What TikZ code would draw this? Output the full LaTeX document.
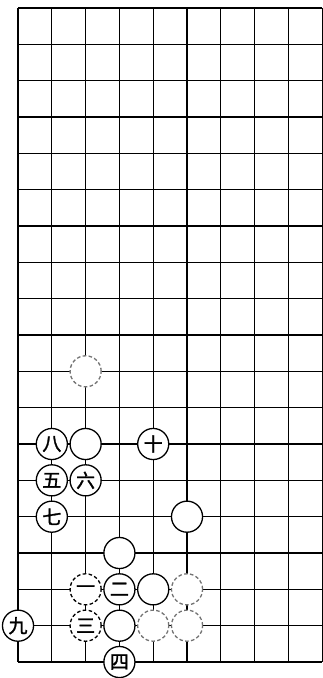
\documentclass[tikz,border=0pt]{standalone}
\usepackage{fontspec}
\newfontfamily\cjk[FakeBold=1.5]{Noto Sans CJK SC}
\usetikzlibrary{positioning}

\begin{document}
\begin{tikzpicture}[x=1cm, y=-1.075cm,
        grid/.style={line width=1.1pt},
        stone/.style={circle, draw, line width=1.1pt, fill=white, minimum size=0.92cm, inner sep=0pt, font=\cjk\fontsize{16}{16}\selectfont},
        faint/.style={stone, densely dashed, draw=black!55}]
        \useasboundingbox (-0.533,-0.22) rectangle (9.0,18.44);

        % board lines
        \foreach \c in {0,...,9} \draw[grid] (\c,0) -- (\c,18);
        \foreach \r in {0,...,18} \draw[grid] (0,\r) -- (9,\r);

        % stones without numbers
        \node[faint] (w1) at (2,10) {};
        \node[stone] (w2) at (2,12) {};
        \node[stone] (w3) at (5,14) {};
        \node[stone] (w4) at (3,15) {};
        \node[stone] (w5) at (4,16) {};
        \node[faint] (w6) at (5,16) {};
        \node[stone] (w7) at (3,17) {};
        \node[faint] (w8) at (4,17) {};
        \node[faint] (w9) at (5,17) {};

        % numbered moves
        \node[faint, draw=black] (m1) at (2,16) {一};
        \node[stone] (m2) at (3,16) {二};
        \node[faint, draw=black] (m3) at (2,17) {三};
        \node[stone] (m4) at (3,18) {四};
        \node[stone] (m5) at (1,13) {五};
        \node[stone] (m6) at (2,13) {六};
        \node[stone] (m7) at (1,14) {七};
        \node[stone] (m8) at (1,12) {八};
        \node[stone] (m9) at (0,17) {九};
        \node[stone] (m10) at (4,12) {十};
    \end{tikzpicture}
\end{document}
